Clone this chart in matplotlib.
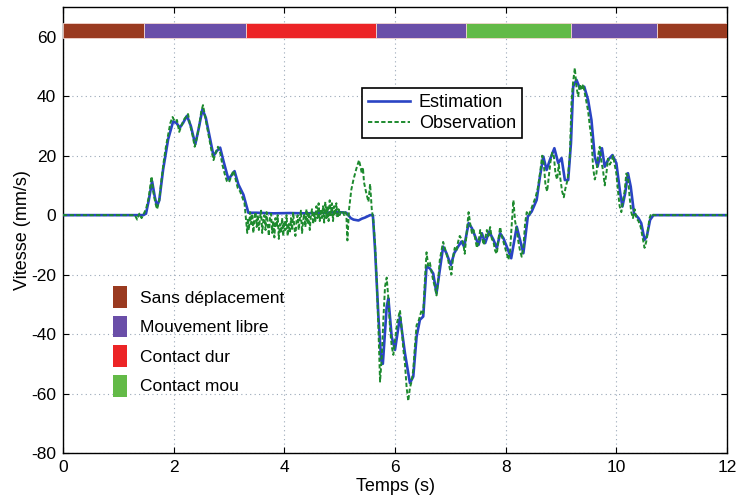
import matplotlib
matplotlib.use("Agg")
import matplotlib.pyplot as plt
from matplotlib.patches import Patch

plt.rcParams['font.family'] = ['Liberation Sans', 'DejaVu Sans']
plt.rcParams['axes.unicode_minus'] = False

# ---------------- data ----------------
est_t = [0, 1.45, 1.50, 1.55, 1.61, 1.66, 1.70, 1.74, 1.81, 1.90, 1.99, 2.05, 2.11, 2.17, 2.24,
         2.31, 2.39, 2.45, 2.52, 2.58, 2.66, 2.72, 2.78, 2.84, 2.90, 2.99, 3.10, 3.17, 3.26,
         3.35, 3.50, 3.80, 4.10, 4.40, 4.70, 5.00, 5.12, 5.20, 5.25, 5.34, 5.40, 5.46, 5.55,
         5.60, 5.64, 5.70, 5.75, 5.78, 5.85, 5.88, 5.94, 6.00, 6.09, 6.18, 6.27, 6.33, 6.39,
         6.45, 6.51, 6.57, 6.63, 6.69, 6.75, 6.81, 6.87, 6.93, 7.01, 7.07, 7.14, 7.20, 7.25,
         7.33, 7.39, 7.45, 7.51, 7.57, 7.63, 7.70, 7.78, 7.84, 7.90, 7.96, 8.02, 8.10, 8.20,
         8.32, 8.40, 8.47, 8.56, 8.62, 8.68, 8.74, 8.80, 8.88, 8.95, 9.01, 9.07, 9.13, 9.18,
         9.22, 9.28, 9.34, 9.42, 9.49, 9.55, 9.61, 9.66, 9.74, 9.79, 9.85, 9.93, 10.00, 10.07,
         10.11, 10.16, 10.21, 10.26, 10.32, 10.40, 10.45, 10.51, 10.55, 10.61, 10.67, 12.0]
est_v = [0, 0, 0.5, 5, 11.4, 6, 3, 5, 15.4, 25.5, 31.5, 31, 29.4, 31, 33.4,
         30, 23.8, 28.9, 35.6, 32.8, 25.5, 19.9, 21.6, 22.7, 18.2, 12, 14.8, 10.3, 6.9,
         0.8, 0.8, 0.6, 0.7, 0.6, 0.8, 1.0, 0.8, -1.0, -1.5, -1.8, -1.2, -0.8, 0,
         0, -11.7, -34, -48.7, -50, -30.8, -28, -40.9, -45.3, -34.1, -46.5, -56.5, -54.3, -40.9,
         -35.2, -34.1, -17.3, -17.9, -19.6, -26.3, -18.4, -10.6, -12.8, -16.8, -12.8, -10.6, -8.9, -10.6,
         -2.7, -4.4, -7.2, -10, -6.1, -9.4, -5.5, -8.3, -11.1, -6.1, -7.8, -10.6, -14.5, -3.9,
         -12.8, -0.5, 1.2, 5.1, 13, 19.7, 15.2, 18.6, 22.5, 17.5, 19.2, 11.8, 11.8, 24.2,
         43.2, 45.5, 42.7, 43.2, 38.7, 32, 19.7, 16.3, 22.5, 16.3, 18.6, 20.2, 17.5, 7.4,
         2.9, 7.4, 14.1, 9.6, 0.6, -1, -2.7, -8.3, -7.2, -1.6, 0, 0]

obs_t = [0, 1.30, 1.34, 1.38, 1.42, 1.46, 1.50, 1.55, 1.60, 1.63, 1.67, 1.70, 1.74, 1.78, 1.82,
         1.86, 1.90, 1.94, 1.98, 2.02, 2.06, 2.10, 2.14, 2.18, 2.22, 2.26, 2.30, 2.34, 2.38,
         2.42, 2.46, 2.50, 2.53, 2.56, 2.60, 2.64, 2.68, 2.72, 2.76, 2.80, 2.84, 2.88, 2.92,
         2.96, 3.00, 3.04, 3.08, 3.12, 3.16, 3.20, 3.24, 3.28, 3.31, 3.33,
         3.34, 3.36, 3.38, 3.40, 3.42, 3.44, 3.46, 3.48, 3.50, 3.52, 3.54, 3.56, 3.58, 3.60,
         3.62, 3.64, 3.66, 3.68, 3.70, 3.72, 3.74, 3.76, 3.78, 3.80, 3.82, 3.84, 3.86, 3.88,
         3.90, 3.92, 3.94, 3.96, 3.98, 4.00, 4.02, 4.04, 4.06, 4.08, 4.10, 4.12, 4.14, 4.16,
         4.18, 4.20, 4.22, 4.24, 4.26, 4.28, 4.30, 4.32, 4.34, 4.36, 4.38, 4.40, 4.42, 4.44,
         4.46, 4.48, 4.50, 4.52, 4.54, 4.56, 4.58, 4.60, 4.62, 4.64, 4.66, 4.68, 4.70, 4.72,
         4.74, 4.76, 4.78, 4.80, 4.82, 4.84, 4.86, 4.88, 4.90, 4.92, 4.94, 4.96, 4.98, 5.00,
         5.02, 5.04, 5.06, 5.08, 5.10, 5.12, 5.14, 5.17, 5.21, 5.25, 5.30, 5.35, 5.38, 5.40,
         5.42, 5.44, 5.48, 5.52, 5.55, 5.58, 5.61, 5.64, 5.67, 5.70, 5.73, 5.76, 5.79, 5.82,
         5.85, 5.88, 5.91, 5.94, 5.97, 6.00, 6.04, 6.09, 6.12, 6.15, 6.18, 6.21, 6.24, 6.27,
         6.30, 6.33, 6.36, 6.39, 6.42, 6.45, 6.48, 6.51, 6.54, 6.57, 6.60, 6.63, 6.66, 6.69,
         6.72, 6.75, 6.78, 6.81, 6.84, 6.87, 6.90, 6.93, 6.96, 6.99, 7.02, 7.05, 7.08, 7.11,
         7.14, 7.17, 7.20, 7.23, 7.26, 7.30, 7.33, 7.36, 7.39, 7.42, 7.45, 7.48, 7.51, 7.54,
         7.57, 7.60, 7.63, 7.66, 7.69, 7.72, 7.75, 7.78, 7.81, 7.84, 7.87, 7.90, 7.93, 7.96,
         7.99, 8.02, 8.05, 8.08, 8.11, 8.14, 8.17, 8.20, 8.23, 8.26, 8.29, 8.32, 8.35, 8.38,
         8.42, 8.46, 8.50, 8.54, 8.58, 8.62, 8.66, 8.69, 8.72, 8.75, 8.78, 8.81, 8.84, 8.87,
         8.90, 8.93, 8.96, 8.99, 9.02, 9.05, 9.08, 9.12, 9.16, 9.19, 9.22, 9.25, 9.28, 9.31,
         9.34, 9.37, 9.40, 9.43, 9.46, 9.49, 9.52, 9.55, 9.58, 9.61, 9.64, 9.67, 9.70, 9.73,
         9.76, 9.79, 9.82, 9.85, 9.88, 9.91, 9.94, 9.97, 10.00, 10.03, 10.06, 10.09, 10.12, 10.15,
         10.18, 10.21, 10.24, 10.27, 10.30, 10.33, 10.36, 10.40, 10.44, 10.48, 10.51, 10.54, 10.57, 10.60,
         10.63, 10.67, 12.0]
obs_v = [0, 0, -1.5, 0.5, -1, 0.5, 2, 6, 13, 8, 4, 2, 5, 12, 18,
         23, 27, 31, 33, 31.5, 32, 28, 30, 32, 33, 34, 30, 27, 23,
         26, 30, 35, 37, 34, 30, 26, 22, 18.5, 21, 23, 21, 17, 14,
         11.5, 11, 13, 15, 12, 9, 8, 6, 4, -2, -6,
         -1, -5, 1, -3, 0.5, -6, -1, 1, -4, 0, -5, -1, 1.5, -6,
         -2, 0, -5, 1, -3, -7, -1, 0.5, -6, -2, -7.5, -1, -4, 0,
         -8, -3, -6, -1, -7, -2, -5, 0, -7, -3, -6, -1, -5, 1,
         -4, -7, -2, 0, -5, -1, 1.5, -6, -2, 0.5, -4, 2, -3, 1,
         -5, 0, 2, -3, 1, -2, 3, -1, 4, -2, 2, -1, 3, -2.5,
         4.5, -1, 3, -2, 5, 0, 4, -2, 3, 0, 4, -1, 2, 0,
         1, 0.5, 1, 0, 1, 0.5, -8.5, 2, 8.5, 12, 15.5, 18.5, 16, 14,
         16, 11, 7.5, 4.5, 10.5, 2, -2, -10, -22, -38, -56, -48, -35, -24,
         -21, -28, -38, -44, -47, -42, -36, -32, -38, -45, -50, -58, -62.5, -58,
         -56, -52, -44, -37, -36, -34, -32, -33, -22, -12.5, -17, -16, -19, -22,
         -24, -27, -22, -15, -12, -9, -11, -13, -15, -18, -20, -14, -11, -12,
         -9, -7, -8, -9, -13, -5, 1, -3, -6, -5, -8, -11, -9, -5,
         -7, -10, -8, -5, -7, -4, -8, -9, -12, -13, -8, -4, -7, -9,
         -11, -13, -15, -12, -3, 5, -2, -5, -9, -12, -14, -11, -3, 1,
         0, 2, 4, 6, 9, 14, 20, 17, 10, 8, 13, 18, 21, 20,
         14, 12, 17, 12, 8, 6, 9, 12, 20, 38, 45, 49.5, 43, 40,
         44, 42, 44, 41, 38, 35, 30, 26, 16, 12, 14, 20, 23, 18,
         15, 10, 14, 19, 17, 18, 20, 17, 14, 8, 3, 1, 5, 8,
         14, 13, 6, 1, -1, 2, -1, -2, -4, -8, -11, -9, -5, -1,
         0.5, 0, 0]

phase_bounds = [0, 1.47, 3.30, 5.66, 7.29, 9.18, 10.73, 12.0]
phase_kind = ["Sans déplacement", "Mouvement libre", "Contact dur", "Mouvement libre",
              "Contact mou", "Mouvement libre", "Sans déplacement"]
phase_names = ["Sans déplacement", "Mouvement libre", "Contact dur", "Contact mou"]
phase_colors = {"Sans déplacement": "#9a3a20", "Mouvement libre": "#6a4ea8",
                "Contact dur": "#ec2426", "Contact mou": "#63ba47"}

x_ticks = [0, 2, 4, 6, 8, 10, 12]
y_ticks = [-80, -60, -40, -20, 0, 20, 40, 60]

# ---------------- figure ----------------
fig = plt.figure(figsize=(7.39, 4.99), dpi=100)
ax = fig.add_axes([63/739, 1-453/499, 664/739, 446/499])

# phase band
lefts = phase_bounds[:-1]
widths = [phase_bounds[i+1]-phase_bounds[i] for i in range(len(lefts))]
ax.bar(lefts, 5.0, width=widths, bottom=59.5, align='edge',
       color=[phase_colors[k] for k in phase_kind], edgecolor='#f3d6d0',
       linewidth=0.6, zorder=3)

ax.plot(est_t, est_v, color='#2a44c4', lw=1.9, zorder=4, label='Estimation')
ax.plot(obs_t, obs_v, color='#1d8a2e', lw=1.4, ls=(0, (2.2, 1.2)), zorder=5,
        label='Observation')

ax.set_xlim(0, 12)
ax.set_ylim(-80, 70)
ax.set_xticks(x_ticks)
ax.set_yticks(y_ticks)
ax.tick_params(direction='in', top=True, right=True, labelsize=12.5, length=4, pad=5)
ax.grid(True, ls=(0, (1, 3)), color='#9aa8b8', lw=0.8)
ax.set_axisbelow(True)
for s in ax.spines.values():
    s.set_linewidth(1.0)
ax.set_xlabel('Temps (s)', fontsize=13, labelpad=2)
ax.set_ylabel('Vitesse (mm/s)', fontsize=13, labelpad=0)

leg1 = ax.legend(loc='upper left', bbox_to_anchor=(0.450, 0.818), fontsize=13,
                 frameon=True, fancybox=False, edgecolor='black', framealpha=1,
                 handlelength=2.3, borderpad=0.35, labelspacing=0.2,
                 handletextpad=0.5, borderaxespad=0)
leg1.get_frame().set_linewidth(1.2)
leg1.set_zorder(10)
ax.add_artist(leg1)

handles = [Patch(facecolor=phase_colors[n], edgecolor='none') for n in phase_names]
leg2 = ax.legend(handles, phase_names, loc='upper left', bbox_to_anchor=(0.0753, 0.374),
                 fontsize=12.5, frameon=False, handlelength=0.8, handleheight=1.55,
                 labelspacing=0.45, handletextpad=0.75, borderaxespad=0, borderpad=0)
leg2.set_zorder(10)

fig.savefig('out.png', dpi=100)
